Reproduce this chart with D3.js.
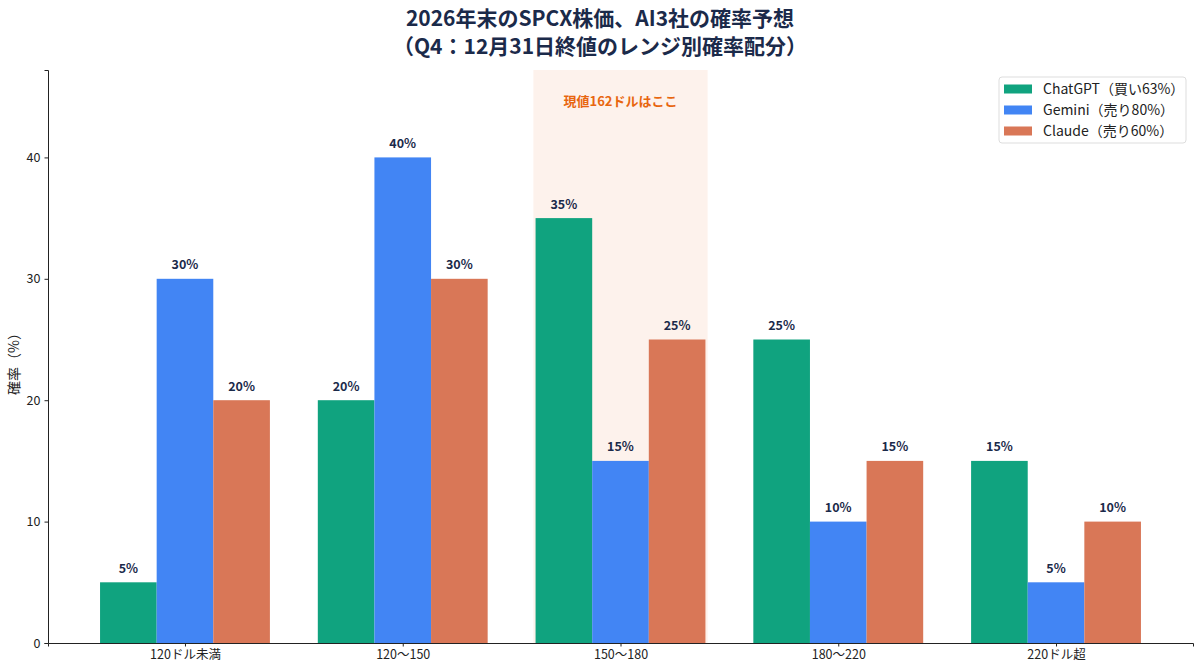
<!DOCTYPE html>
<html>
<head>
<meta charset="utf-8">
<script src="https://cdn.jsdelivr.net/npm/d3@7"></script>
<style>
  body { margin: 0; background: #fff; }
  svg text { font-family: "Noto Sans CJK JP", "Noto Sans", sans-serif; }
</style>
</head>
<body>
<div id="chart"></div>
<script>
// Data
const categories = ['120ドル未満', '120〜150', '150〜180', '180〜220', '220ドル超'];
const seriesNames = ['ChatGPT（買い63%）', 'Gemini（売り80%）', 'Claude（売り60%）'];
const chatgpt = [5, 20, 35, 25, 15];
const gemini = [30, 40, 15, 10, 5];
const claude = [20, 30, 25, 15, 10];
const yTicks = [0, 10, 20, 30, 40];
const titleLines = ['2026年末のSPCX株価、AI3社の確率予想', '（Q4：12月31日終値のレンジ別確率配分）'];
const highlightLabel = '現値162ドルはここ';

const colors = ['#10a37f', '#4285f4', '#d97757'];
const navy = '#1b2a4a';

const width = 1200, height = 671;
const margin = {top: 70, right: 7, bottom: 28, left: 48};
const innerW = width - margin.left - margin.right;
const innerH = height - margin.top - margin.bottom;

const svg = d3.select('#chart').append('svg')
    .attr('width', width)
    .attr('height', height);

// Title
svg.append('text')
    .attr('x', width / 2)
    .attr('y', 26)
    .attr('text-anchor', 'middle')
    .attr('font-size', 21)
    .attr('font-weight', 'bold')
    .attr('fill', navy)
    .selectAll('tspan')
    .data(titleLines)
    .join('tspan')
    .attr('x', width / 2)
    .attr('dy', (d, i) => i === 0 ? 0 : 28)
    .text(d => d);

const chart = svg.append('g')
    .attr('transform', `translate(${margin.left},${margin.top})`);

// x scale in category units, matplotlib-like margins
const barW = 0.26;
const xScale = d3.scaleLinear().domain([-0.629, categories.length - 1 + 0.629]).range([0, innerW]);
const yScale = d3.scaleLinear().domain([0, 47.2]).range([innerH, 0]);

// Highlight band around the current price range
chart.append('rect')
    .attr('x', xScale(1.6))
    .attr('y', 0)
    .attr('width', xScale(2.4) - xScale(1.6))
    .attr('height', innerH)
    .attr('fill', '#fdf2ec');

chart.append('text')
    .attr('x', xScale(2))
    .attr('y', yScale(44.2))
    .attr('text-anchor', 'middle')
    .attr('font-size', 13)
    .attr('font-weight', 'bold')
    .attr('fill', '#e8660f')
    .text(highlightLabel);

// Bars
const series = [chatgpt, gemini, claude];
series.forEach((values, s) => {
    const offset = (s - 1) * barW;
    chart.selectAll(`.bar-${s}`)
        .data(values)
        .join('rect')
        .attr('class', `bar-${s}`)
        .attr('x', (d, i) => xScale(i + offset - barW / 2))
        .attr('y', d => yScale(d))
        .attr('width', xScale(barW) - xScale(0))
        .attr('height', d => innerH - yScale(d))
        .attr('fill', colors[s]);

    chart.selectAll(`.label-${s}`)
        .data(values)
        .join('text')
        .attr('class', `label-${s}`)
        .attr('x', (d, i) => xScale(i + offset))
        .attr('y', d => yScale(d) - 9.5)
        .attr('text-anchor', 'middle')
        .attr('font-size', 12.5)
        .attr('font-weight', 'bold')
        .attr('fill', navy)
        .text(d => d + '%');
});

// Axes
const xAxis = d3.axisBottom(xScale)
    .tickValues(d3.range(categories.length))
    .tickFormat(i => categories[i])
    .tickSize(3.5)
    .tickPadding(4);

const yAxis = d3.axisLeft(yScale)
    .tickValues(yTicks)
    .tickSize(3.5)
    .tickPadding(4);

chart.append('g')
    .attr('transform', `translate(0,${innerH})`)
    .call(xAxis)
    .call(g => g.selectAll('text').attr('font-size', 12.5).attr('fill', '#222'))
    .call(g => g.selectAll('path,line').attr('stroke', '#222'));

chart.append('g')
    .call(yAxis)
    .call(g => g.selectAll('text').attr('font-size', 12.5).attr('fill', '#222'))
    .call(g => g.selectAll('path,line').attr('stroke', '#222'));

// Axis title
svg.append('text')
    .attr('transform', `translate(19,${margin.top + innerH / 2 + 4}) rotate(-90)`)
    .attr('text-anchor', 'middle')
    .attr('font-size', 14)
    .attr('fill', '#222')
    .text('確率（%）');

// Legend
const legend = svg.append('g').attr('transform', 'translate(999,77)');
legend.append('rect')
    .attr('width', 187)
    .attr('height', 66)
    .attr('rx', 3)
    .attr('fill', '#fff')
    .attr('stroke', '#ddd');

const items = legend.selectAll('.item')
    .data(seriesNames)
    .join('g')
    .attr('class', 'item')
    .attr('transform', (d, i) => `translate(5,${12 + i * 21})`);

items.append('rect')
    .attr('x', 0)
    .attr('y', -4.5)
    .attr('width', 28)
    .attr('height', 9)
    .attr('fill', (d, i) => colors[i]);

items.append('text')
    .attr('x', 39)
    .attr('y', 5)
    .attr('font-size', 14)
    .attr('fill', '#222')
    .text(d => d);
</script>
</body>
</html>
